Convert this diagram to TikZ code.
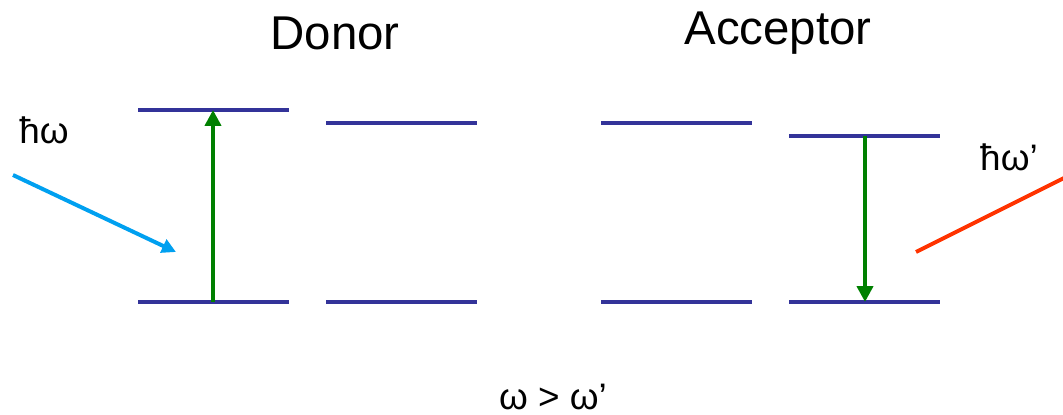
\documentclass[tikz,border=0pt]{standalone}
\usepackage{fontspec}
\setmainfont{Liberation Sans}
\usetikzlibrary{arrows.meta}
\definecolor{levelblue}{RGB}{51,51,153}
\definecolor{transgreen}{RGB}{0,128,0}
\definecolor{inblue}{RGB}{0,160,240}
\definecolor{outred}{RGB}{255,51,0}
\tikzset{
    level/.style={levelblue, line width=4pt*0.567},
    trans/.style={transgreen, line width=5pt*0.567, -{Triangle[length=9pt, width=9pt]}},
    photon/.style={line width=4pt*0.567},
    lbl/.style={font=\fontsize{27}{31}\selectfont, inner sep=0pt},
    sublbl/.style={font=\fontsize{21}{25}\selectfont, inner sep=0pt}
}
\begin{document}
\begin{tikzpicture}[x=0.02cm, y=-0.02cm]
    % Bounding box in pixel units (1063 x 415)
    \useasboundingbox (0,0) rectangle (1063,415);

    % Titles
    \node[lbl] (donor) at (335,33) {Donor};
    \node[lbl] (acceptor) at (778,33) {Acceptor};

    % Energy levels: donor
    \draw[level] (138,110) -- (289,110);
    \draw[level] (138,302) -- (289,302);
    \draw[level] (326,123) -- (477,123);
    \draw[level] (326,302) -- (477,302);

    % Energy levels: acceptor
    \draw[level] (601,123) -- (752,123);
    \draw[level] (601,302) -- (752,302);
    \draw[level] (789,136) -- (940,136);
    \draw[level] (789,302) -- (940,302);

    % Transition end points
    \coordinate (dlow) at (213,302);
    \coordinate (dup) at (213,110);
    \coordinate (aup) at (865,136);
    \coordinate (alow) at (865,302);

    % Transitions
    \draw[trans] (dlow) -- (dup);
    \draw[trans] (aup) -- (alow);

    % Absorbed and emitted light
    \coordinate (instart) at (13,175);
    \coordinate (inend) at (176,252);
    \draw[photon, inblue, -{Triangle[length=8pt, width=8pt]}] (instart) -- (inend);
    \node[sublbl] (hw) at (44,130) {ħω};

    \coordinate (outstart) at (916,252);
    \coordinate (outend) at (1066,177);
    \draw[photon, outred] (outstart) -- (outend);
    \node[sublbl] (hwp) at (1009,157) {ħω’};

    % Relation
    \node[sublbl] (rel) at (553,397) {ω > ω’};
\end{tikzpicture}
\end{document}
